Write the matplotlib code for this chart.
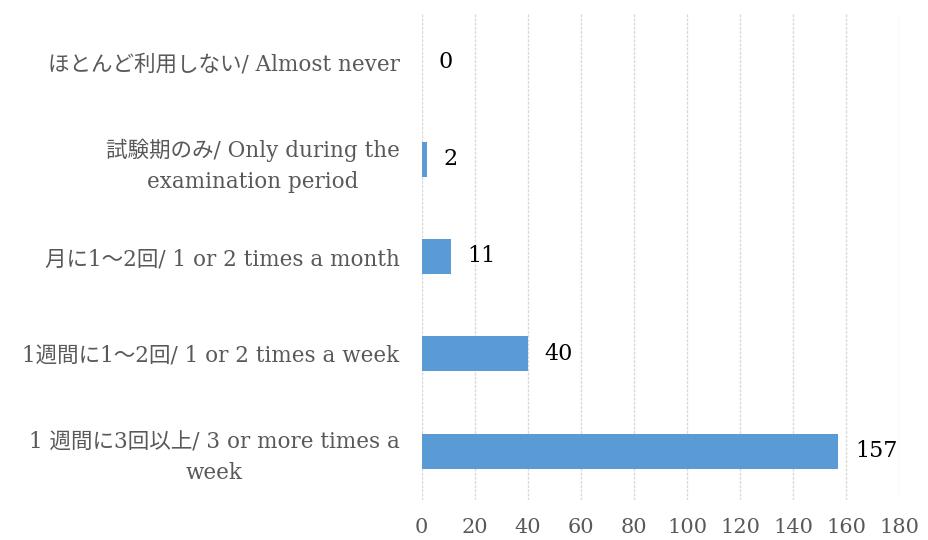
import matplotlib.pyplot as plt
import numpy as np

# categories from bottom to top (barh draws first item at the bottom)
categories = [
    "1 週間に3回以上/ 3 or more times a\nweek",
    "1週間に1～2回/ 1 or 2 times a week",
    "月に1～2回/ 1 or 2 times a month",
    "試験期のみ/ Only during the\nexamination period",
    "ほとんど利用しない/ Almost never",
]
counts = [157, 40, 11, 2, 0]
x_ticks = [0, 20, 40, 60, 80, 100, 120, 140, 160, 180]

FONT = ['DejaVu Serif', 'Noto Sans CJK JP']
BAR_COLOR = '#5B9BD5'

fig = plt.figure(figsize=(9.29, 5.40), dpi=100)
ax = fig.add_axes([0.454, 0.074, 0.514, 0.902])

y = np.arange(len(categories))
bars = ax.barh(y, counts, height=0.36, color=BAR_COLOR, zorder=3)

# value labels to the right of each bar
for yi, val in zip(y, counts):
    ax.annotate(str(val), xy=(val, yi), xytext=(12, 0), textcoords='offset points',
                va='center', ha='left', fontsize=16, color='black', family=FONT)

ax.set_xlim(0, 180)
ax.set_ylim(-0.5, len(categories) - 0.5)
ax.set_xticks(x_ticks)
ax.set_yticks(y)
ax.set_yticklabels(categories, family=FONT, fontsize=15.5, color='#595959',
                   ha='right', multialignment='center', linespacing=1.5)
for lab in ax.get_xticklabels():
    lab.set_family(FONT)
    lab.set_fontsize(15)
    lab.set_color('#595959')

ax.tick_params(axis='both', length=0)
ax.tick_params(axis='y', pad=16)
ax.tick_params(axis='x', pad=13)
ax.xaxis.grid(True, color='#D9D9D9', linewidth=1, linestyle=(0, (2, 1)), zorder=0)
for side in ['top', 'right', 'bottom', 'left']:
    ax.spines[side].set_visible(False)

fig.savefig('out.png', dpi=100)
